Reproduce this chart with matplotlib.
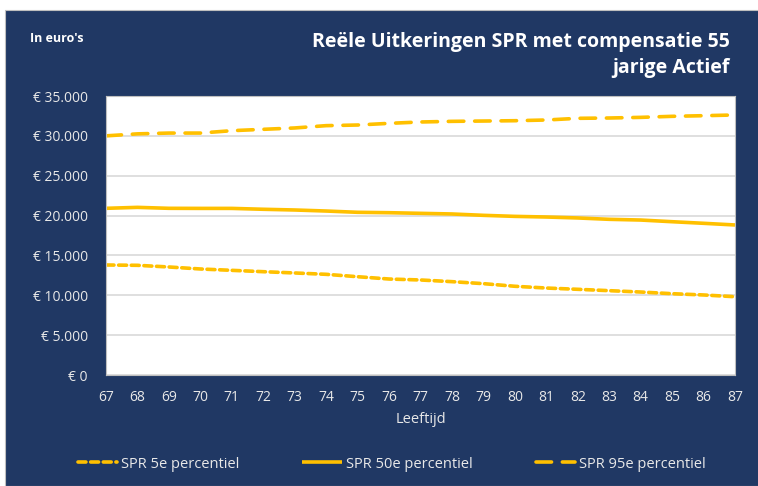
import matplotlib.pyplot as plt
from matplotlib.patches import Rectangle
from matplotlib.ticker import FuncFormatter

ages = list(range(67, 88))
p95 = [30000, 30250, 30350, 30350, 30650, 30820, 30990, 31280, 31360, 31570,
       31740, 31820, 31860, 31900, 31990, 32200, 32240, 32320, 32450, 32530, 32620]
p50 = [20910, 21030, 20910, 20900, 20900, 20790, 20700, 20570, 20410, 20360,
       20280, 20200, 20030, 19900, 19820, 19700, 19530, 19440, 19230, 19030, 18820]
p5 = [13800, 13760, 13550, 13300, 13130, 12960, 12800, 12630, 12330, 12040,
      11920, 11710, 11460, 11130, 10910, 10750, 10580, 10410, 10200, 10040, 9820]
labels = ['SPR 5e percentiel', 'SPR 50e percentiel', 'SPR 95e percentiel']

navy = '#203864'
gold = '#FFC000'
txt = '#E8E8E8'
plt.rcParams['font.family'] = ['Open Sans', 'DejaVu Sans']

fig = plt.figure(figsize=(7.58, 4.86), dpi=100, facecolor='white')
fig.patches.append(Rectangle((5 / 758, 0), 1, 1 - 10 / 486, transform=fig.transFigure,
                             facecolor=navy, edgecolor='#BFBFBF', lw=0.8, zorder=-10))

ax = fig.add_axes([106 / 758, 1 - 375 / 486, (735 - 106) / 758, (375 - 96) / 486])
ax.set_facecolor('white')

ax.plot(ages, p5, color=gold, lw=2.6, linestyle=(0, (2.2, 1.3)), dash_capstyle='round', label=labels[0])
ax.plot(ages, p50, color=gold, lw=2.6, solid_capstyle='butt', label=labels[1])
ax.plot(ages, p95, color=gold, lw=2.6, linestyle=(0, (4.3, 3.0)), dash_capstyle='round', label=labels[2])

ax.set_xlim(67, 87)
ax.set_ylim(0, 35000)
ax.set_xticks(ages)
ax.set_yticks(range(0, 35001, 5000))
ax.yaxis.set_major_formatter(FuncFormatter(lambda v, p: '€ ' + f'{int(v):,}'.replace(',', '.')))
ax.grid(axis='y', color='#D9D9D9', lw=1.2)
ax.set_axisbelow(True)
for s in ax.spines.values():
    s.set_color('#BFBFBF')
    s.set_linewidth(0.8)
ax.tick_params(length=0, colors=txt, labelsize=10)
ax.tick_params(axis='y', pad=13)
ax.tick_params(axis='x', pad=11)
ax.set_xlabel('Leeftijd', color=txt, fontsize=10.5, labelpad=5)

fig.text(30 / 758, 1 - 38 / 486, "In euro's", color='white', fontsize=9, fontweight='bold', va='center')
fig.text(730 / 758, 1 - 55 / 486, 'Reële Uitkeringen SPR met compensatie 55\njarige Actief',
         color='white', fontsize=14, fontweight='bold', ha='right', va='center', linespacing=1.45)

fig.legend(loc='center', bbox_to_anchor=(0.517, 1 - 464 / 486), ncol=3, frameon=False,
           fontsize=10.5, labelcolor=txt, handlelength=2.7, handletextpad=0.3, columnspacing=4.3)

fig.savefig('out.png', dpi=100, facecolor='white')
